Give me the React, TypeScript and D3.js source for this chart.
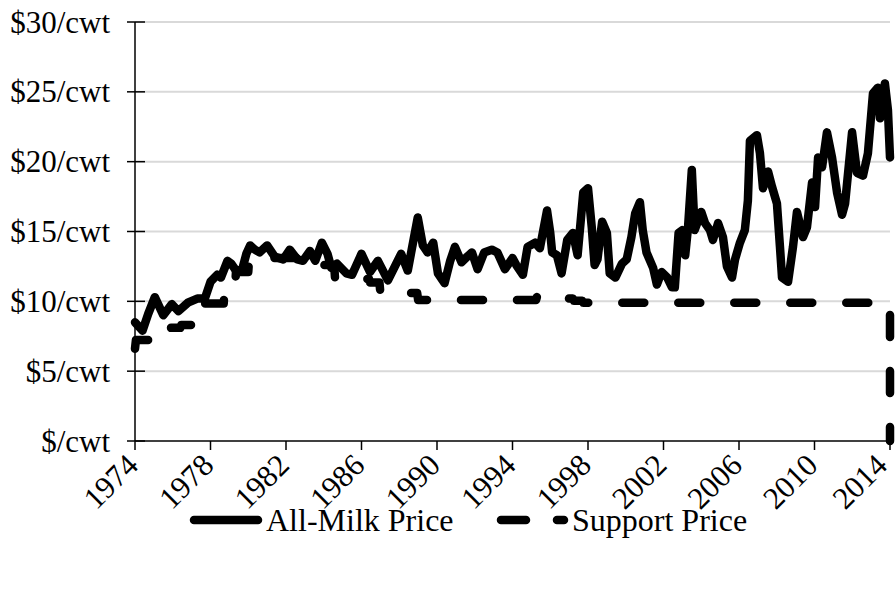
import React from "react";
import * as d3 from "d3";

const milkDates: number[] = [
  1974.0, 1974.4, 1974.7, 1975.05, 1975.5, 1975.95, 1976.3, 1976.8, 1977.3, 1977.7,
  1978.0, 1978.35, 1978.55, 1978.9, 1979.1, 1979.4, 1979.7, 1979.9, 1980.1, 1980.35,
  1980.6, 1981.0, 1981.4, 1981.85, 1982.2, 1982.6, 1982.9, 1983.27, 1983.55, 1983.9,
  1984.2, 1984.4, 1984.7, 1985.2, 1985.5, 1986.0, 1986.45, 1986.87, 1987.4, 1988.1,
  1988.45, 1988.98, 1989.25, 1989.5, 1989.8, 1990.05, 1990.4, 1990.7, 1990.95, 1991.3,
  1991.6, 1991.85, 1992.15, 1992.5, 1992.9, 1993.2, 1993.6, 1994.0, 1994.2, 1994.55,
  1994.8, 1995.2, 1995.45, 1995.83, 1996.0, 1996.1, 1996.35, 1996.6, 1996.9, 1997.2,
  1997.45, 1997.75, 1998.0, 1998.2, 1998.35, 1998.5, 1998.75, 1999.0, 1999.15, 1999.45,
  1999.8, 2000.05, 2000.3, 2000.5, 2000.75, 2000.9, 2001.1, 2001.45, 2001.65, 2001.9,
  2002.2, 2002.45, 2002.6, 2002.8, 2003.0, 2003.15, 2003.3, 2003.5, 2003.65, 2004.0,
  2004.2, 2004.46, 2004.62, 2004.89, 2005.15, 2005.36, 2005.63, 2005.79, 2006.05, 2006.31,
  2006.47, 2006.58, 2006.95, 2007.11, 2007.27, 2007.54, 2007.75, 2008.01, 2008.17, 2008.28,
  2008.6, 2008.86, 2009.07, 2009.39, 2009.6, 2009.87, 2010.03, 2010.19, 2010.4, 2010.66,
  2010.93, 2011.2, 2011.46, 2011.62, 2011.99, 2012.25, 2012.57, 2012.83, 2013.1, 2013.36,
  2013.47, 2013.73, 2013.89, 2014.0,
];

const milkPrices: number[] = [
  8.5, 7.9, 9.1, 10.3, 9.0, 9.8, 9.3, 9.9, 10.2, 10.2,
  11.4, 11.9, 11.7, 12.9, 12.7, 12.1, 12.4, 13.4, 14.0, 13.7,
  13.5, 14.0, 13.2, 13.0, 13.7, 13.0, 12.9, 13.6, 12.9, 14.2,
  13.4, 12.4, 12.7, 12.0, 11.9, 13.4, 12.1, 12.9, 11.5, 13.4,
  12.2, 16.0, 14.0, 13.5, 14.2, 12.0, 11.3, 12.9, 13.9, 12.8,
  13.2, 13.5, 12.3, 13.5, 13.7, 13.5, 12.3, 13.1, 12.6, 11.9,
  13.9, 14.2, 13.8, 16.5, 14.9, 13.5, 13.3, 12.0, 14.4, 14.9,
  13.3, 17.8, 18.1, 15.3, 12.6, 13.0, 15.7, 14.9, 12.0, 11.7,
  12.7, 13.0, 14.6, 16.3, 17.1, 15.1, 13.5, 12.4, 11.2, 12.1,
  11.7, 11.0, 11.0, 14.9, 15.1, 13.3, 15.3, 19.4, 15.1, 16.4,
  15.6, 15.1, 14.4, 15.6, 14.6, 12.5, 11.7, 13.0, 14.2, 15.1,
  17.2, 21.5, 21.9, 20.6, 18.1, 19.3, 18.2, 17.0, 13.9, 11.7,
  11.4, 13.9, 16.4, 14.6, 15.3, 18.5, 16.75, 20.3, 19.6, 22.1,
  20.3, 17.75, 16.2, 17.0, 22.1, 19.2, 19.0, 20.6, 24.9, 25.3,
  23.1, 25.6, 23.7, 20.3,
];

const supportDates: number[] = [
  1974.0, 1974.05, 1975.55, 1975.6, 1976.4, 1976.45, 1977.0, 1977.05, 1977.65, 1977.7,
  1978.7, 1978.75, 1979.3, 1979.35, 1980.0, 1980.05, 1983.85, 1983.9,
  1984.55, 1984.6, 1986.4, 1986.45, 1986.95, 1987.0, 1988.95, 1989.0, 1995.25, 1995.3,
  1996.75, 1996.8, 1997.2, 1997.25, 1997.7, 1997.75, 2014.0, 2014.0,
];

const supportPrices: number[] = [
  6.6, 7.24, 7.24, 8.1, 8.1, 8.3, 8.3, 9.0, 9.0, 9.85,
  9.85, 11.0, 11.0, 12.1, 12.1, 13.1, 13.1, 12.6,
  12.6, 11.6, 11.6, 11.35, 11.35, 10.6, 10.6, 10.1, 10.1, 10.35,
  10.35, 10.2, 10.2, 10.05, 10.05, 9.9, 9.9, 0,
];

const yTicks: number[] = [0, 5, 10, 15, 20, 25, 30];
const yTickLabels: string[] = ["$/cwt", "$5/cwt", "$10/cwt", "$15/cwt", "$20/cwt", "$25/cwt", "$30/cwt"];
const xTicks: number[] = [1974, 1978, 1982, 1986, 1990, 1994, 1998, 2002, 2006, 2010, 2014];
const seriesNames: string[] = ["All-Milk Price", "Support Price"];

const FONT = "'Liberation Serif', 'Times New Roman', serif";

export default function App() {
  const W = 896;
  const H = 594;
  const x = d3.scaleLinear().domain([1974, 2014]).range([135, 890]);
  const y = d3.scaleLinear().domain([0, 30]).range([441, 22]);

  const milk: [number, number][] = milkDates.map((d, i) => [d, milkPrices[i]]);
  const support: [number, number][] = supportDates.map((d, i) => [d, supportPrices[i]]);

  const line = d3
    .line<[number, number]>()
    .x((d) => x(d[0]))
    .y((d) => y(d[1]));

  let L = 0;
  for (let i = 1; i < support.length; i++) {
    const dx = x(support[i][0]) - x(support[i - 1][0]);
    const dy = y(support[i][1]) - y(support[i - 1][1]);
    L += Math.sqrt(dx * dx + dy * dy);
  }
  const dash = 22;
  const gap = 34;
  const period = dash + gap;
  const offset = (((14 - L) % period) + period) % period;

  return (
    <svg
      width={W}
      height={H}
      style={{ position: "absolute", left: 0, top: 0, background: "#fff" }}
    >
      {yTicks.filter((t) => t > 0).map((t) => (
        <line key={"g" + t} x1={135} x2={890} y1={y(t)} y2={y(t)} stroke="#d9d9d9" strokeWidth={2} />
      ))}
      <line x1={135} x2={135} y1={y(30)} y2={y(0)} stroke="#000" strokeWidth={1.5} />
      {yTicks.map((t, i) => (
        <g key={"yt" + t}>
          <line x1={127} x2={145} y1={y(t)} y2={y(t)} stroke="#000" strokeWidth={1.5} />
          <text
            x={110}
            y={y(t)}
            textAnchor="end"
            dominantBaseline="central"
            fontFamily={FONT}
            fontSize={31}
            fill="#000"
          >
            {yTickLabels[i]}
          </text>
        </g>
      ))}
      <line x1={135} x2={890} y1={y(0)} y2={y(0)} stroke="#000" strokeWidth={1.5} />
      {xTicks.map((t) => (
        <g key={"xt" + t}>
          <line x1={x(t)} x2={x(t)} y1={y(0)} y2={y(0) + 9} stroke="#000" strokeWidth={1.5} />
          <text
            transform={`translate(${Math.min(x(t) + 5, 889)},${y(0) + 26}) rotate(-45)`}
            textAnchor="end"
            fontFamily={FONT}
            fontSize={31}
            fill="#000"
          >
            {t}
          </text>
        </g>
      ))}
      <path
        d={line(milk) || ""}
        fill="none"
        stroke="#000"
        strokeWidth={8.5}
        strokeLinejoin="round"
        strokeLinecap="round"
      />
      <path
        d={line(support) || ""}
        fill="none"
        stroke="#000"
        strokeWidth={8.5}
        strokeLinejoin="round"
        strokeLinecap="round"
        strokeDasharray={`${dash} ${gap}`}
        strokeDashoffset={offset}
      />
      <line x1={194} x2={258} y1={520} y2={520} stroke="#000" strokeWidth={8.5} strokeLinecap="round" />
      <text x={266} y={531} fontFamily={FONT} fontSize={32} fill="#000">
        {seriesNames[0]}
      </text>
      <line
        x1={501}
        x2={564}
        y1={520}
        y2={520}
        stroke="#000"
        strokeWidth={8.5}
        strokeLinecap="round"
        strokeDasharray="25 31"
      />
      <text x={572} y={531} fontFamily={FONT} fontSize={32} fill="#000">
        {seriesNames[1]}
      </text>
    </svg>
  );
}
